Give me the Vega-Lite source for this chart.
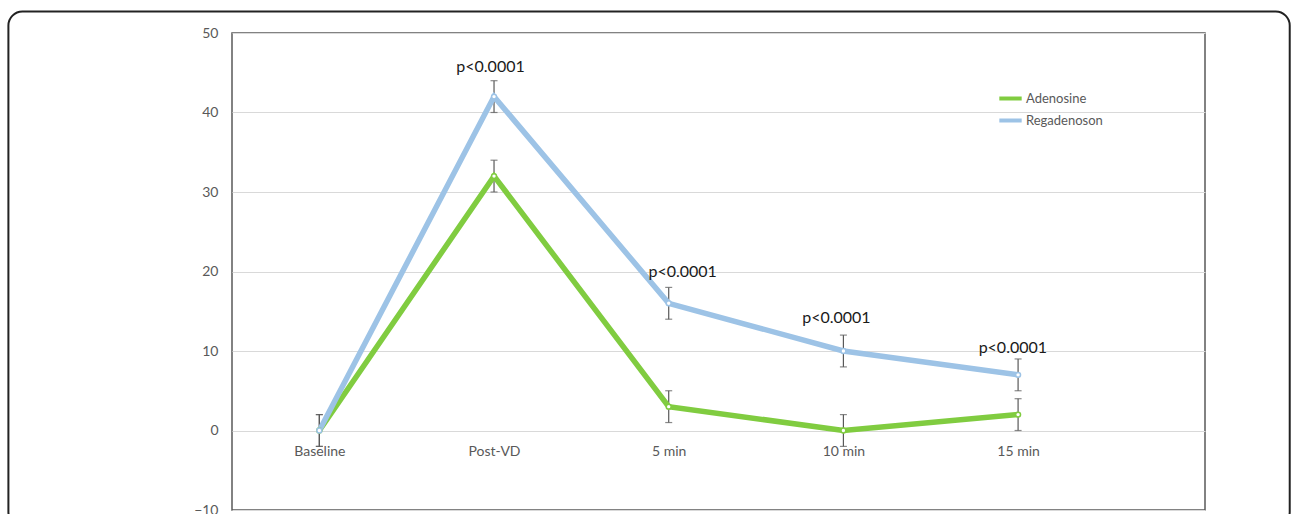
{
  "$schema": "https://vega.github.io/schema/vega-lite/v6.json",
  "width": 973,
  "height": 477,
  "autosize": "none",
  "padding": {"left": 232, "top": 33, "right": 87, "bottom": 4},
  "background": "white",
  "config": {"view": {"stroke": "#595959", "strokeWidth": 1.5}, "font": "Lato"},
  "datasets": {
    "series": [
      {"cat": "Baseline", "idx": 0, "group": "Adenosine", "value": 0, "lo": -2, "hi": 2},
      {"cat": "Post-VD", "idx": 1, "group": "Adenosine", "value": 32, "lo": 30, "hi": 34},
      {"cat": "5 min", "idx": 2, "group": "Adenosine", "value": 3, "lo": 1, "hi": 5},
      {"cat": "10 min", "idx": 3, "group": "Adenosine", "value": 0, "lo": -2, "hi": 2},
      {"cat": "15 min", "idx": 4, "group": "Adenosine", "value": 2, "lo": 0, "hi": 4},
      {"cat": "Baseline", "idx": 0, "group": "Regadenoson", "value": 0, "lo": -2, "hi": 2},
      {"cat": "Post-VD", "idx": 1, "group": "Regadenoson", "value": 42, "lo": 40, "hi": 44},
      {"cat": "5 min", "idx": 2, "group": "Regadenoson", "value": 16, "lo": 14, "hi": 18},
      {"cat": "10 min", "idx": 3, "group": "Regadenoson", "value": 10, "lo": 8, "hi": 12},
      {"cat": "15 min", "idx": 4, "group": "Regadenoson", "value": 7, "lo": 5, "hi": 9}
    ],
    "notes": [
      {"idx": 0.98, "y": 45.7, "label": "p<0.0001"},
      {"idx": 2.08, "y": 20.0, "label": "p<0.0001"},
      {"idx": 2.96, "y": 14.1, "label": "p<0.0001"},
      {"idx": 3.97, "y": 10.4, "label": "p<0.0001"}
    ],
    "frame": [
      {"x1": -1.78, "x2": 5.555, "y1": 52.7, "y2": -12}
    ]
  },
  "layer": [
    {
      "data": {"name": "frame"},
      "mark": {"type": "rect", "fill": null, "stroke": "#222222", "strokeWidth": 2, "cornerRadius": 14},
      "encoding": {
        "x": {"field": "x1", "type": "quantitative", "scale": {"domain": [-0.5, 5.07], "nice": false, "zero": false}},
        "x2": {"field": "x2"},
        "y": {"field": "y1", "type": "quantitative", "scale": {"domain": [-10, 50], "nice": false, "zero": false}},
        "y2": {"field": "y2"}
      }
    },
    {
      "data": {"name": "series"},
      "mark": {"type": "errorbar", "ticks": {"size": 7}, "color": "#595959", "thickness": 1.2},
      "encoding": {
        "x": {"field": "idx", "type": "quantitative"},
        "y": {"field": "lo", "type": "quantitative"},
        "y2": {"field": "hi"}
      }
    },
    {
      "data": {"name": "series"},
      "mark": {"type": "line", "strokeWidth": 5.5},
      "encoding": {
        "x": {
          "field": "idx", "type": "quantitative",
          "axis": {
            "values": [0, 1, 2, 3, 4],
            "labelExpr": "['Baseline','Post-VD','5 min','10 min','15 min'][datum.value]",
            "offset": -80, "domain": false, "ticks": false, "grid": false,
            "labelPadding": 14, "labelFontSize": 14, "labelColor": "#595959", "title": null
          }
        },
        "y": {
          "field": "value", "type": "quantitative",
          "axis": {
            "values": [-10, 0, 10, 20, 30, 40, 50],
            "grid": true, "gridColor": "#d9d9d9", "domain": false, "ticks": false,
            "labelPadding": 14, "labelFontSize": 14, "labelColor": "#595959", "title": null
          }
        },
        "color": {
          "field": "group", "type": "nominal",
          "scale": {"domain": ["Adenosine", "Regadenoson"], "range": ["#80CC40", "#9DC3E6"]},
          "legend": {
            "orient": "none", "legendX": 765, "legendY": 52, "title": null,
            "symbolType": "stroke", "symbolStrokeWidth": 4, "symbolSize": 500,
            "labelFontSize": 13, "labelColor": "#595959", "rowPadding": 0, "labelOffset": 2
          }
        }
      }
    },
    {
      "data": {"name": "series"},
      "mark": {"type": "point", "filled": false, "fill": "white", "size": 24, "strokeWidth": 1.5, "opacity": 1},
      "encoding": {
        "x": {"field": "idx", "type": "quantitative"},
        "y": {"field": "value", "type": "quantitative"},
        "color": {"field": "group", "type": "nominal"}
      }
    },
    {
      "data": {"name": "notes"},
      "mark": {"type": "text", "fontSize": 16, "color": "#1a1a1a"},
      "encoding": {
        "x": {"field": "idx", "type": "quantitative"},
        "y": {"field": "y", "type": "quantitative"},
        "text": {"field": "label"}
      }
    }
  ]
}
